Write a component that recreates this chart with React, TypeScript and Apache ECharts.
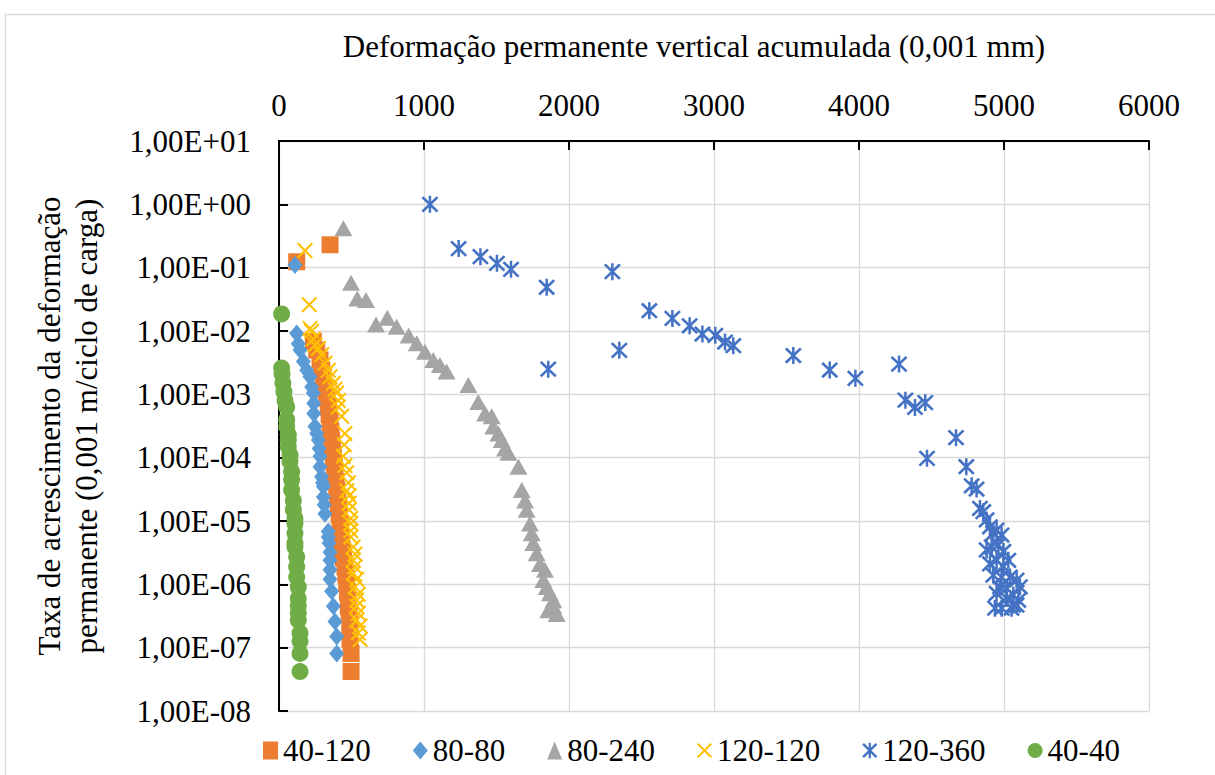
import React, { useEffect, useRef } from 'react';
import * as echarts from 'echarts';

const FONT = 'Times New Roman';

const xTitle = 'Deformação permanente vertical acumulada (0,001 mm)';
const yTitle = 'Taxa de acrescimento da deformação\npermanente (0,001 m/ciclo de carga)';
const seriesNames = ['40-120', '80-80', '80-240', '120-120', '120-360', '40-40'];
const xTicks = [0, 1000, 2000, 3000, 4000, 5000, 6000];

const s40_120: [number, number][] = [
  [122, 0.124], [352, 0.23], [237, 0.0068], [260, 0.005], [283, 0.0035], [295, 0.0024],
  [306, 0.0017], [318, 0.0012], [329, 8.7e-4], [340, 6.3e-4], [346, 4.8e-4], [352, 3.6e-4],
  [358, 2.6e-4], [363, 1.9e-4], [369, 1.4e-4], [375, 1.05e-4], [381, 7.8e-5], [386, 5.8e-5],
  [392, 4.2e-5], [398, 3.1e-5], [404, 2.3e-5], [409, 1.7e-5], [415, 1.25e-5], [421, 9.1e-6],
  [426, 6.8e-6], [432, 5.0e-6], [438, 3.5e-6], [444, 2.6e-6], [455, 1.9e-6], [461, 1.4e-6],
  [467, 1.05e-6], [472, 7.5e-7], [478, 4.5e-7], [484, 3.3e-7], [490, 2.5e-7], [490, 1.8e-7],
  [490, 1.35e-7], [497, 8.1e-8], [497, 4.2e-8],
];

const s80_80: [number, number][] = [
  [110, 0.11], [122, 0.0091], [133, 0.0063], [145, 0.005], [168, 0.0033], [191, 0.0024],
  [214, 0.0019], [225, 0.0013], [237, 1.05e-3], [240, 7.2e-4], [240, 5e-4], [248, 3.1e-4],
  [260, 2.4e-4], [271, 1.9e-4], [277, 1.4e-4], [283, 1.05e-4], [283, 7.2e-5], [294, 5e-5],
  [300, 4e-5], [306, 3.5e-5], [306, 2.4e-5], [312, 1.8e-5], [317, 1.3e-5], [340, 6.8e-6],
  [340, 5.6e-6], [345, 4.5e-6], [352, 3.2e-6], [352, 2.4e-6], [352, 1.7e-6], [352, 1.2e-6],
  [363, 7.8e-7], [375, 4.5e-7], [386, 2.6e-7], [398, 1.5e-7], [398, 8.1e-8],
];

const s80_240: [number, number][] = [
  [444, 0.42], [497, 0.058], [540, 0.0327], [600, 0.031], [669, 0.0127], [747, 0.0162],
  [811, 0.0117], [894, 0.0085], [950, 0.0064], [1007, 0.0047], [1064, 0.0035], [1110, 0.0029],
  [1156, 0.0023], [1306, 0.0014], [1374, 7.6e-4], [1421, 5e-4], [1467, 4.5e-4], [1478, 3.1e-4],
  [1513, 2.4e-4], [1536, 1.9e-4], [1559, 1.4e-4], [1582, 1.2e-4], [1651, 7.2e-5], [1674, 3.1e-5],
  [1697, 2.1e-5], [1708, 1.5e-5], [1731, 9.1e-6], [1743, 6.4e-6], [1754, 4.5e-6], [1777, 3.1e-6],
  [1800, 2.1e-6], [1834, 1.7e-6], [1823, 1.17e-6], [1846, 9.1e-7], [1869, 7.2e-7], [1892, 5.6e-7],
  [1892, 4.5e-7], [1857, 3.9e-7], [1915, 3.4e-7],
];

const s120_120: [number, number][] = [
  [179, 0.186], [209, 0.026], [214, 0.011], [225, 0.0099], [237, 0.0075], [248, 0.006],
  [271, 0.0053], [294, 0.0042], [317, 0.0031], [340, 0.0024], [352, 0.0019], [375, 0.0015],
  [386, 1.2e-3], [398, 1.05e-3], [409, 8e-4], [409, 6.3e-4], [432, 4.5e-4], [455, 2.4e-4],
  [450, 1.6e-4], [443, 1.05e-4], [455, 7.5e-5], [467, 5.8e-5], [478, 4e-5], [467, 3e-5],
  [484, 2.5e-5], [484, 1.9e-5], [484, 1.5e-5], [495, 1.1e-5], [495, 9.1e-6], [495, 7e-6],
  [495, 5.6e-6], [512, 3.9e-6], [524, 3e-6], [512, 2.4e-6], [524, 1.9e-6], [512, 1.5e-6],
  [536, 1.2e-6], [524, 9.1e-7], [547, 7e-7], [536, 5.6e-7], [536, 4.5e-7], [547, 3.5e-7],
  [536, 2.7e-7], [559, 2.2e-7], [547, 1.7e-7], [559, 1.35e-7],
];

const s120_360: [number, number][] = [
  [1041, 1.0], [1239, 0.2], [1389, 0.149], [1503, 0.117], [1600, 0.094], [1846, 0.049],
  [1857, 0.0025], [2299, 0.0865], [2347, 0.00495], [2554, 0.0209], [2713, 0.0158], [2832, 0.0121],
  [2920, 0.00896], [3009, 0.00855], [3076, 0.0067], [3133, 0.00586], [3547, 0.0041], [3798, 0.00242],
  [3975, 0.00179], [4276, 0.003], [4320, 0.00081], [4386, 0.00062], [4457, 0.00074], [4669, 0.000207],
  [4469, 0.0000977], [4740, 7.2e-5], [4777, 3.6e-5], [4811, 3.2e-5], [4834, 1.58e-5], [4857, 1.4e-5],
  [4880, 1.04e-5], [4903, 8.1e-6], [4926, 6.4e-6], [4949, 7.2e-6], [4983, 6.0e-6], [4880, 3.5e-6],
  [4915, 3.9e-6], [4961, 4.2e-6], [4996, 3.3e-6], [4903, 2.1e-6], [4949, 2.4e-6], [4996, 1.9e-6],
  [5030, 2.4e-6], [4926, 1.4e-6], [4983, 1.3e-6], [5041, 1.3e-6], [5087, 1.17e-6], [4972, 9.1e-7],
  [5018, 8.7e-7], [5110, 9.1e-7], [4949, 7.2e-7], [5064, 6.8e-7], [5018, 6.0e-7], [5099, 5.6e-7],
  [4938, 4.2e-7], [4984, 4.2e-7], [5064, 4.7e-7], [5087, 4.7e-7], [5052, 4.2e-7],
];

const s40_40: [number, number][] = [
  [18, 0.0186], [18, 0.0026], [21, 0.0021], [27, 0.0015], [34, 1.1e-3], [41, 8e-4], [53, 6.3e-4],
  [53, 4e-4], [53, 3.1e-4], [64, 2.3e-4], [64, 1.9e-4], [64, 1.5e-4], [76, 1.1e-4], [76, 8.7e-5],
  [87, 6e-5], [87, 4.5e-5], [87, 3.1e-5], [99, 2.1e-5], [99, 1.5e-5], [110, 1.1e-5], [110, 9.1e-6],
  [110, 6.4e-6], [110, 4.5e-6], [110, 3.9e-6], [122, 2.7e-6], [122, 1.9e-6], [122, 1.3e-6],
  [133, 9.1e-7], [133, 6e-7], [133, 4.5e-7], [133, 3.5e-7], [133, 2.7e-7], [145, 1.7e-7],
  [145, 1.26e-7], [145, 8.1e-8], [145, 4.2e-8],
];

// Marker outlines as filled polygons on a 20x20 box
const CROSS =
  'path://M1.92 0.08L19.92 18.08L18.08 19.92L0.08 1.92ZM18.08 0.08L19.92 1.92L1.92 19.92L0.08 18.08Z';
const STAR =
  'path://M2.56 0.44L19.56 17.44L17.44 19.56L0.44 2.56ZM17.44 0.44L19.56 2.56L2.56 19.56L0.44 17.44ZM8.6 0L11.4 0L11.4 20L8.6 20Z';

const seriesData = [s40_120, s80_80, s80_240, s120_120, s120_360, s40_40];
const seriesColors = ['#ED7D31', '#5B9BD5', '#A5A5A5', '#FFC000', '#4472C4', '#70AD47'];
const seriesSymbols = ['rect', 'diamond', 'triangle', CROSS, STAR, 'circle'];
const seriesSizes: (number | number[])[] = [17, [15, 18], [18, 16], 16, 17, 17];

function sciLabel(v: number): string {
  const e = Math.round(Math.log10(v));
  return '1,00E' + (e >= 0 ? '+' : '-') + String(Math.abs(e)).padStart(2, '0');
}

export default function App() {
  const ref = useRef<HTMLDivElement>(null);

  useEffect(() => {
    const chart = echarts.init(ref.current!, null, { renderer: 'svg' });
    const axisLineStyle = { color: '#000', width: 2 };
    const gridLineStyle = { color: '#D9D9D9', width: 1.3 };
    const labelFont = { fontSize: 31, color: '#000', fontFamily: FONT };
    chart.setOption({
      animation: false,
      grid: { left: 279, top: 141, width: 870, height: 570, containLabel: false },
      xAxis: {
        type: 'value',
        position: 'top',
        min: xTicks[0],
        max: xTicks[xTicks.length - 1],
        interval: 1000,
        axisLine: { show: true, onZero: false, lineStyle: axisLineStyle },
        axisTick: { show: true, inside: true, length: 9, lineStyle: axisLineStyle },
        axisLabel: { ...labelFont, margin: 20, formatter: (v: number) => String(v) },
        splitLine: { show: true, lineStyle: gridLineStyle },
      },
      yAxis: {
        type: 'log',
        logBase: 10,
        min: 1e-8,
        max: 10,
        axisLine: { show: true, onZero: false, lineStyle: axisLineStyle },
        axisTick: { show: true, inside: true, length: 9, lineStyle: axisLineStyle },
        axisLabel: { ...labelFont, margin: 28, formatter: sciLabel },
        splitLine: { show: true, lineStyle: gridLineStyle },
      },
      legend: {
        left: 258,
        top: 730,
        itemWidth: 15,
        itemHeight: 18,
        itemGap: 42,
        textStyle: labelFont,
        data: seriesNames,
      },
      graphic: [
        {
          type: 'rect',
          silent: true,
          z: -10,
          shape: { x: 5.5, y: 14.5, width: 1230, height: 800 },
          style: { fill: 'none', stroke: '#D9D9D9', lineWidth: 1.5 },
        },
        {
          type: 'text',
          x: 694,
          y: 46,
          style: {
            text: xTitle,
            fontSize: 31,
            fontFamily: FONT,
            fill: '#000',
            align: 'center',
            verticalAlign: 'middle',
          },
        },
        {
          type: 'text',
          x: 68,
          y: 426,
          rotation: Math.PI / 2,
          style: {
            text: yTitle,
            fontSize: 31,
            lineHeight: 37,
            fontFamily: FONT,
            fill: '#000',
            align: 'center',
            verticalAlign: 'middle',
          },
        },
      ],
      series: seriesNames.map((name, i) => ({
        name,
        type: 'scatter',
        symbol: seriesSymbols[i],
        symbolSize: seriesSizes[i],
        itemStyle: { color: seriesColors[i], opacity: 1 },
        data: seriesData[i],
        z: 2 + i,
      })),
    });
    return () => chart.dispose();
  }, []);

  return (
    <div
      ref={ref}
      style={{ position: 'fixed', left: 0, top: 0, width: 1215, height: 775, background: '#fff' }}
    />
  );
}
